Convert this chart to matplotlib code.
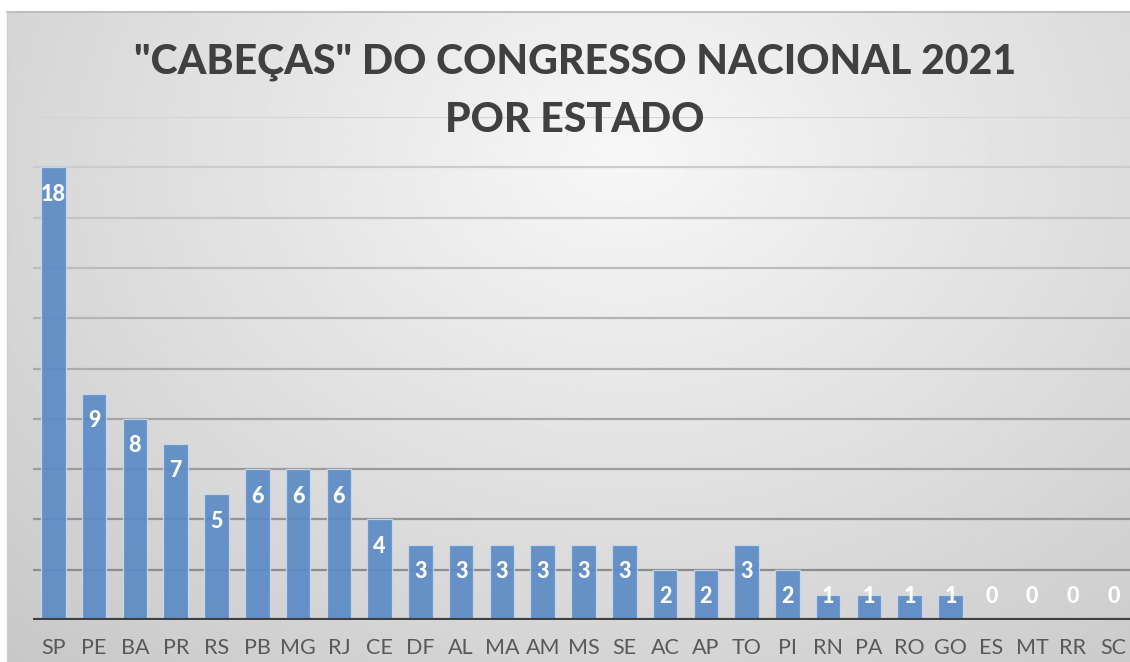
import matplotlib
matplotlib.use("Agg")
import matplotlib.pyplot as plt
import numpy as np

ESTADOS = ["SP", "PE", "BA", "PR", "RS", "PB", "MG", "RJ", "CE", "DF", "AL", "MA", "AM", "MS",
           "SE", "AC", "AP", "TO", "PI", "RN", "PA", "RO", "GO", "ES", "MT", "RR", "SC"]
CABECAS = [18, 9, 8, 7, 5, 6, 6, 6, 4, 3, 3, 3, 3, 3, 3, 2, 2, 3, 2, 1, 1, 1, 1, 0, 0, 0, 0]
Y_TICKS = [0, 2, 4, 6, 8, 10, 12, 14, 16, 18, 20]

TITLE = '"CABEÇAS" DO CONGRESSO NACIONAL 2021\nPOR ESTADO'
FONT = ["Lato", "DejaVu Sans"]
BAR_COLOR = "#5b8bc6"
TEXT_COLOR = "#404040"
TICK_COLOR = "#595959"

W, H = 1130, 662


def draw_background(fig):
    # chart area with radial grey gradient, white margin top/left
    x0, y0 = 7 / W, 0
    bg = fig.add_axes([x0, y0, 1 - x0, 1 - 12 / H], zorder=-10)
    xs = np.linspace(0, 1, 400)
    ys = np.linspace(0, 1, 240)
    gx, gy = np.meshgrid(xs, ys)
    r = np.sqrt(((gx - 0.55) / 0.6) ** 2 + ((gy - 0.22) / 0.8) ** 2)
    val = np.clip(0.97 - 0.14 * r, 0, 1)
    bg.imshow(val, cmap="gray", vmin=0, vmax=1, aspect="auto", extent=(0, 1, 1, 0))
    bg.set_xlim(0, 1)
    bg.set_ylim(1, 0)
    bg.axis("off")
    fig.add_artist(plt.Line2D([x0, 1], [1 - 12 / H, 1 - 12 / H], transform=fig.transFigure,
                              color="#bfbfbf", lw=1.5))
    fig.add_artist(plt.Line2D([x0, x0], [0, 1 - 12 / H], transform=fig.transFigure,
                              color="#d0d0d0", lw=1.0))


def main():
    plt.rcParams["font.family"] = FONT
    fig = plt.figure(figsize=(W / 100, H / 100), dpi=100, facecolor="white")
    draw_background(fig)

    ax = fig.add_axes([33 / W, 42 / H, 1101 / W, 503 / H])
    ax.patch.set_alpha(0)
    x = np.arange(len(ESTADOS))

    # gridlines darken towards the bottom, like the original
    grid_cols = np.linspace(0.55, 0.83, len(Y_TICKS) - 1)
    for yt, c in zip(Y_TICKS[1:], grid_cols):
        ax.axhline(yt, color=str(c), lw=1.6, zorder=1)

    ax.bar(x, CABECAS, width=0.6, color=BAR_COLOR, alpha=0.92, edgecolor="#c9d9ee",
           linewidth=0.9, zorder=2)
    ax.axhline(0, color="#404040", lw=3, zorder=3)

    for xi, v in zip(x, CABECAS):
        ax.text(xi, max(v - 1.07, 0.93), str(v), ha="center", va="center", color="white",
                fontsize=15.5, fontweight="black", zorder=4)

    ax.set_xlim(-0.5, len(ESTADOS) - 0.5)
    ax.set_ylim(0, 20)
    ax.set_yticks([])
    ax.set_xticks(x)
    ax.set_xticklabels(ESTADOS, fontsize=15.5, color=TICK_COLOR)
    ax.tick_params(axis="x", length=0, pad=13)
    for s in ax.spines.values():
        s.set_visible(False)

    lines = TITLE.split("\n")
    fig.text(575 / W, 1 - 62 / H, lines[0], ha="center", va="center",
             fontsize=29.5, fontweight="black", color=TEXT_COLOR)
    fig.text(575 / W, 1 - 120 / H, lines[1], ha="center", va="center",
             fontsize=29.5, fontweight="black", color=TEXT_COLOR)

    fig.savefig("out.png", dpi=100, facecolor="white")
    plt.close(fig)


if __name__ == "__main__":
    main()
